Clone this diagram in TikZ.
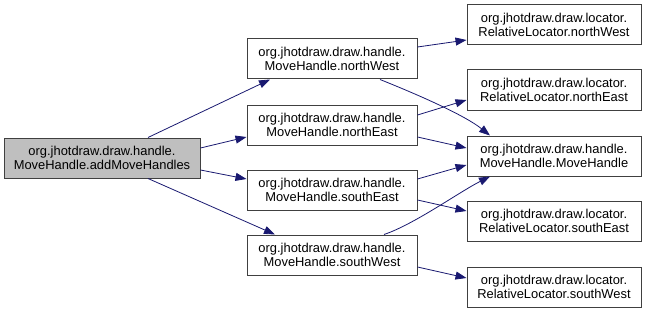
\documentclass[tikz,border=0pt]{standalone}
\usepackage{fontspec}
\setmainfont{Liberation Sans}
\usetikzlibrary{arrows.meta}
\definecolor{edgeblue}{HTML}{191970}
\definecolor{callerfill}{HTML}{BFBFBF}

\begin{document}
\begin{tikzpicture}[
    x=1pt, y=-1pt,
    every node/.style={font=\fontsize{12.9}{14}\selectfont, align=center},
    fn/.style={rectangle, draw=black!75, line width=1pt, fill=white,
               inner sep=0pt, minimum height=40pt},
    caller/.style={fn, fill=callerfill, minimum width=196pt},
    callee/.style={fn, minimum width=170pt},
    target/.style={fn, minimum width=174pt},
    arr/.style={-{Triangle[length=11pt, width=8pt]}, edgeblue, line width=0.8pt},
]
\useasboundingbox (0,0) rectangle (648,313);
% caller
\node[caller] (add) at (102, 158) {org.jhotdraw.draw.handle.\\MoveHandle.addMoveHandles};
% MoveHandle callees
\node[callee] (mnw) at (332, 59)  {org.jhotdraw.draw.handle.\\MoveHandle.northWest};
\node[callee] (mne) at (332, 125) {org.jhotdraw.draw.handle.\\MoveHandle.northEast};
\node[callee] (mse) at (332, 190) {org.jhotdraw.draw.handle.\\MoveHandle.southEast};
\node[callee] (msw) at (332, 255) {org.jhotdraw.draw.handle.\\MoveHandle.southWest};
% locators and constructor
\node[target] (rnw) at (554, 25)  {org.jhotdraw.draw.locator.\\RelativeLocator.northWest};
\node[target] (rne) at (554, 90)  {org.jhotdraw.draw.locator.\\RelativeLocator.northEast};
\node[target] (mh)  at (554, 156) {org.jhotdraw.draw.handle.\\MoveHandle.MoveHandle};
\node[target] (rse) at (554, 221) {org.jhotdraw.draw.locator.\\RelativeLocator.southEast};
\node[target] (rsw) at (554, 287) {org.jhotdraw.draw.locator.\\RelativeLocator.southWest};
% calls from addMoveHandles
\draw[arr] ([xshift=46pt]add.north) -- ([xshift=-62pt]mnw.south);
\draw[arr] ([yshift=10pt]add.east) -- ([yshift=-12pt]mne.west);
\draw[arr] ([yshift=-12pt]add.east) -- ([yshift=11pt]mse.west);
\draw[arr] ([xshift=46pt]add.south) -- ([xshift=-57pt]msw.north);
% calls from the four handles
\draw[arr] ([yshift=12pt]mnw.east) -- ([yshift=-15pt]rnw.west);
\draw[arr] ([xshift=48pt]mnw.south) .. controls +(40,16) and +(-25,-20) .. ([xshift=-64pt]mh.north);
\draw[arr] ([yshift=10pt]mne.east) -- ([yshift=-10pt]rne.west);
\draw[arr] ([yshift=-12pt]mne.east) -- ([yshift=8pt]mh.west);
\draw[arr] ([yshift=11pt]mse.east) -- ([yshift=-9pt]mh.west);
\draw[arr] ([yshift=-10pt]mse.east) -- ([yshift=10pt]rse.west);
\draw[arr] ([xshift=52pt]msw.north) .. controls +(30,-10) and +(-30,15) .. ([xshift=-64pt]mh.south);
\draw[arr] ([yshift=-12pt]msw.east) -- ([yshift=9pt]rsw.west);
\end{tikzpicture}
\end{document}
